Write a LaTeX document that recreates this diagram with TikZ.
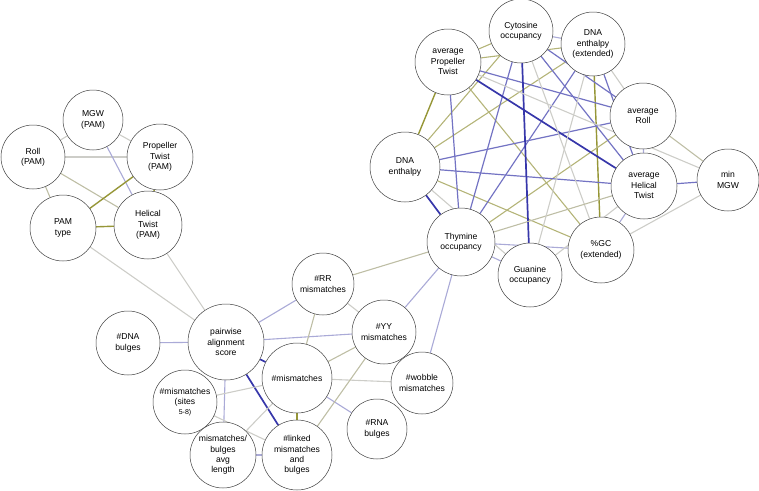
\documentclass[tikz,border=0pt]{standalone}
\usepackage{fontspec}
\setmainfont{Liberation Sans}
\usetikzlibrary{backgrounds}
\definecolor{olv}{RGB}{150,150,55}
\definecolor{olvl}{RGB}{180,180,120}
\definecolor{dblu}{RGB}{55,55,170}
\definecolor{mblu}{RGB}{115,115,195}
\definecolor{lblu}{RGB}{170,170,215}
\definecolor{gry}{RGB}{205,205,200}
\definecolor{ogry}{RGB}{190,190,165}
\begin{document}
\begin{tikzpicture}[x=1pt,y=-1pt,font=\fontsize{8.6}{10.3}\selectfont,
  var/.style={circle,draw=black!75,fill=white,line width=.5pt,align=center,inner sep=0pt,minimum size=#1},
  var/.default=64,
  olive/.style={olv,line width=1.4pt},
  olivel/.style={olvl,line width=1.1pt},
  darkblue/.style={dblu,line width=1.7pt},
  blue/.style={mblu,line width=1.2pt},
  lightblue/.style={lblu,line width=1.1pt},
  grey/.style={gry,line width=1.1pt},
  olivegrey/.style={ogry,line width=1.1pt}]
\useasboundingbox (0,0) rectangle (759,490);
% PAM cluster
\node[var=60] (mgwp) at (93,120) {MGW\\(PAM)};
\node[var] (rollp) at (33,157) {Roll\\(PAM)};
\node[var=66] (ptp) at (160,157) {Propeller\\Twist\\(PAM)};
\node[var=66] (pam) at (63,228) {PAM\\type};
\node[var=68] (htp) at (148,225) {Helical\\Twist\\(PAM)};
% shape and occupancy cluster
\node[var] (cyt) at (521,31) {Cytosine\\occupancy};
\node[var] (dnax) at (593,44) {DNA\\enthalpy\\(extended)};
\node[var=66] (apt) at (448,62) {average\\Propeller\\Twist};
\node[var=66] (aroll) at (643,116) {average\\Roll};
\node[var=70] (dna) at (405,167) {DNA\\enthalpy};
\node[var=66] (aht) at (644,186) {average\\Helical\\Twist};
\node[var=62] (mgw) at (728,180) {min\\MGW};
\node[var=68] (thy) at (461,242) {Thymine\\occupancy};
\node[var] (gua) at (530,275) {Guanine\\occupancy};
\node[var=66] (gc) at (601,250) {\%GC\\(extended)};
% mismatch cluster
\node[var=62] (rr) at (323,284) {\#RR\\mismatches};
\node[var=76] (pas) at (226,342) {pairwise\\alignment\\score};
\node[var] (yy) at (384,332) {\#YY\\mismatches};
\node[var=70] (mis) at (297,378) {\#mismatches};
\node[var] (dnab) at (128,343) {\#DNA\\bulges};
\node[var] (sites) at (185,402) {\#mismatches\\(sites\\{\scriptsize 5-8)}};
\node[var=66] (avg) at (223,455) {mismatches/\\bulges\\avg\\length};
\node[var=70] (link) at (297,455) {\#linked\\mismatches\\and\\bulges};
\node[var=60] (rna) at (377,429) {\#RNA\\bulges};
\node[var=62] (wob) at (422,383) {\#wobble\\mismatches};
% edges
\begin{scope}[on background layer]
\draw[grey] (mgwp) -- (rollp);
\draw[grey] (mgwp) -- (ptp);
\draw[grey] (rollp) -- (ptp);
\draw[lightblue] (mgwp) -- (htp);
\draw[olivegrey] (rollp) -- (pam);
\draw[olivegrey] (rollp) -- (htp);
\draw[olive] (ptp) -- (pam);
\draw[olive] (ptp) -- (htp);
\draw[olive] (pam) -- (htp);
\draw[grey] (pam) -- (pas);
\draw[grey] (htp) -- (pas);
\draw[lightblue] (pas) -- (rr);
\draw[lightblue] (pas) -- (yy);
\draw[lightblue] (pas) -- (dnab);
\draw[lightblue] (pas) -- (avg);
\draw[darkblue] (pas) -- (mis);
\draw[darkblue] (pas) -- (link);
\draw[olivegrey] (rr) -- (mis);
\draw[olivegrey] (yy) -- (mis);
\draw[olivegrey] (rr) -- (thy);
\draw[grey] (rr) -- (yy);
\draw[lightblue] (yy) -- (thy);
\draw[lightblue] (thy) -- (wob);
\draw[lightblue] (mis) -- (rna);
\draw[lightblue] (link) -- (avg);
\draw[grey] (mis) -- (wob);
\draw[grey] (mis) -- (sites);
\draw[grey] (mis) -- (avg);
\draw[grey] (sites) -- (link);
\draw[olivegrey] (yy) -- (link);
\draw[olive] (mis) -- (link);
\draw[olivel] (apt) -- (cyt);
\draw[olivel] (apt) -- (dnax);
\draw[olive] (apt) -- (dna);
\draw[olivel] (cyt) -- (dna);
\draw[olivel] (dnax) -- (dna);
\draw[olive] (dnax) -- (gc);
\draw[olivel] (apt) -- (gc);
\draw[olivel] (aroll) -- (thy);
\draw[olivel] (dna) -- (gc);
\draw[blue] (apt) -- (thy);
\draw[blue] (cyt) -- (thy);
\draw[blue] (apt) -- (aroll);
\draw[blue] (cyt) -- (aroll);
\draw[blue] (cyt) -- (aht);
\draw[blue] (dnax) -- (thy);
\draw[blue] (dnax) -- (aht);
\draw[blue] (aroll) -- (dna);
\draw[blue] (dna) -- (aht);
\draw[blue] (aht) -- (mgw);
\draw[darkblue] (cyt) -- (gua);
\draw[darkblue] (apt) -- (aht);
\draw[darkblue] (dna) -- (thy);
\draw[lightblue] (aroll) -- (aht);
\draw[lightblue] (aht) -- (gc);
\draw[lightblue] (thy) -- (gc);
\draw[lightblue] (thy) -- (gua);
\draw[lightblue] (cyt) -- (dnax);
\draw[grey] (cyt) -- (gc);
\draw[grey] (apt) -- (mgw);
\draw[olivegrey] (aroll) -- (mgw);
\draw[grey] (gc) -- (mgw);
\draw[olivegrey] (aht) -- (thy);
\draw[grey] (gua) -- (aht);
\draw[grey] (dna) -- (gua);
\draw[grey] (dnax) -- (aroll);
\draw[grey] (dnax) -- (gua);
\end{scope}
\end{tikzpicture}
\end{document}
